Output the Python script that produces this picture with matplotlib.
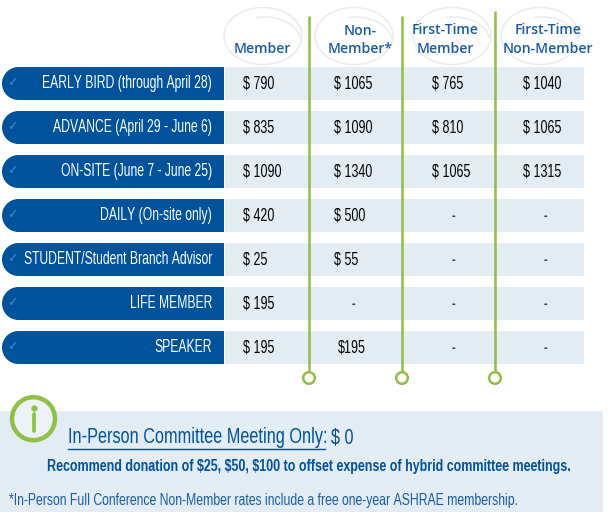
import matplotlib
matplotlib.use("Agg")
import matplotlib.pyplot as plt
from matplotlib import font_manager as fm
from matplotlib.patches import Rectangle, Ellipse, Circle, Arc
from fontTools.ttLib import TTFont

# les donnees du tableau
rows = ["EARLY BIRD (through April 28)", "ADVANCE (April 29 - June 6)", "ON-SITE (June 7 - June 25)",
        "DAILY (On-site only)", "STUDENT/Student Branch Advisor", "LIFE MEMBER", "SPEAKER"]
member = ["$ 790", "$ 835", "$ 1090", "$ 420", "$ 25", "$ 195", "$ 195"]
non_member = ["$ 1065", "$ 1090", "$ 1340", "$ 500", "$ 55", "-", "$195"]
first_member = ["$ 765", "$ 810", "$ 1065", "-", "-", "-", "-"]
first_non_member = ["$ 1040", "$ 1065", "$ 1315", "-", "-", "-", "-"]
headers = ["Member", "Non-\nMember*", "First-Time\nMember", "First-Time\nNon-Member"]

blue = "#00529b"
green = "#8fbf45"
pale = "#e3ebf3"


# pas de police condensee installee : on en fabrique une a partir de Liberation Sans
def make_narrow(weight, out_name, sx=0.68):
    path = fm.findfont(fm.FontProperties(family="Liberation Sans", weight=weight))
    font = TTFont(path)
    glyf = font["glyf"]
    hmtx = font["hmtx"]
    for name in font.getGlyphOrder():
        g = glyf[name]
        if g.isComposite():
            for comp in g.components:
                comp.x = int(comp.x * sx)
        elif g.numberOfContours > 0:
            g.coordinates.scale((sx, 1))
            g.coordinates.toInt()
        g.removeHinting()
        g.recalcBounds(glyf)
        adv, lsb = hmtx[name]
        hmtx[name] = (int(adv * sx), int(lsb * sx))
    for tag in ["fpgm", "prep", "cvt ", "kern", "GPOS", "GSUB", "hdmx", "VDMX", "LTSH"]:
        if tag in font:
            del font[tag]
    font.save(out_name)
    return fm.FontProperties(fname=out_name)


narrow = make_narrow("normal", "narrow.ttf")
narrow_bold = make_narrow("bold", "narrow_bold.ttf")
narrow_title = make_narrow("normal", "narrow_title.ttf", sx=0.74)
narrow_note = make_narrow("normal", "narrow_note.ttf", sx=0.715)
bold_note = make_narrow("bold", "bold_note.ttf", sx=0.75)

fig = plt.figure(figsize=(6.11, 5.32), dpi=100)
ax = fig.add_axes([0, 0, 1, 1])
ax.set_xlim(0, 611)
ax.set_ylim(532, 0)
ax.axis("off")

# lignes du tableau
row_y = [83.5, 127.5, 171.5, 215.5, 259.5, 303.5, 347.5]
for y, name in zip(row_y, rows):
    ax.add_patch(Rectangle((225, y - 16.5), 359, 33, fc=pale, ec="none", zorder=1))
    ax.add_patch(Rectangle((18.5, y - 16.5), 205.5, 33, fc=blue, ec="none", zorder=2))
    ax.add_patch(Circle((18.5, y), 16.5, fc=blue, ec="none", zorder=2))
    ax.text(12.5, y - 1, "\u2713", color="#3f8fd6", fontsize=9, ha="center", va="center",
            family="DejaVu Sans", zorder=3)
    ax.text(212, y - 0.5, name, color="white", ha="right", va="center",
            fontproperties=narrow, size=12.9, zorder=3)

# prix
col_left = [243, 334, 432, 523]
col_center = [259, 353, 454, 545]
for c, col in enumerate([member, non_member, first_member, first_non_member]):
    for y, val in zip(row_y, col):
        if val == "-":
            ax.text(col_center[c], y, val, color="#444444", ha="center", va="center",
                    fontproperties=narrow_bold, size=12, zorder=3)
        else:
            x = 338 if val == "$195" else col_left[c]
            ax.text(x, y + 1, val, color="black", ha="left", va="center",
                    fontproperties=narrow, size=13.2, zorder=3)

# ovales des entetes
oval_x = [263, 354, 452, 540]
for x in oval_x:
    ax.add_patch(Ellipse((x, 36), 78, 57, fc="none", ec="#e6ebf0", lw=1.1, zorder=1))
    ax.add_patch(Arc((x + 2, 42), 72, 50, theta1=250, theta2=355, color="#e6ebf0", lw=1.1, zorder=1))

header_x = [262, 360, 445, 548]
header_y = [49, 40, 39.5, 39.5]
for x, y, h in zip(header_x, header_y, headers):
    ax.text(x, y, h, color="#1a5ca5", fontsize=10.1, fontweight="semibold", ha="center", va="center",
            family="Open Sans", linespacing=1.4, zorder=4)

# separateurs verts
for x, top in zip([309, 402, 495], [16, 16, 11]):
    ax.plot([x, x], [top, 372], color=green, lw=1.8, solid_capstyle="butt", zorder=4)
    ax.add_patch(Circle((x, 378), 5.8, fc="white", ec=green, lw=1.8, zorder=5))

# encadre du bas
ax.add_patch(Rectangle((0, 411), 603, 101, fc=pale, ec="none", zorder=1))
ax.add_patch(Circle((33.5, 418.7), 21.5, fc="#edf2f6", ec=green, lw=3.2, zorder=2))
ax.plot([33.5, 33.5], [414, 431], color=green, lw=2.6, solid_capstyle="round", zorder=3)
ax.plot([33.5], [407.5], "o", color=green, ms=3.5, zorder=3)

ax.text(68, 438, "In-Person Committee Meeting Only:", color=blue, ha="left", va="center",
        fontproperties=narrow_title, size=15.8, zorder=3)
ax.plot([68, 325], [449, 449], color=blue, lw=1, zorder=3)
ax.text(331, 438, "$ 0", color=blue, ha="left", va="center", fontproperties=narrow_title, size=15.8, zorder=3)
ax.text(47, 467, "Recommend donation of $25, $50, $100 to offset expense of hybrid committee meetings.",
        color=blue, ha="left", va="center", fontproperties=bold_note, size=12, zorder=3)
ax.text(9, 500, "*In-Person Full Conference Non-Member rates include a free one-year ASHRAE membership.",
        color="#1a5ca5", ha="left", va="center", fontproperties=narrow_note, size=12.3, zorder=3)

fig.savefig("out.png", dpi=100)
